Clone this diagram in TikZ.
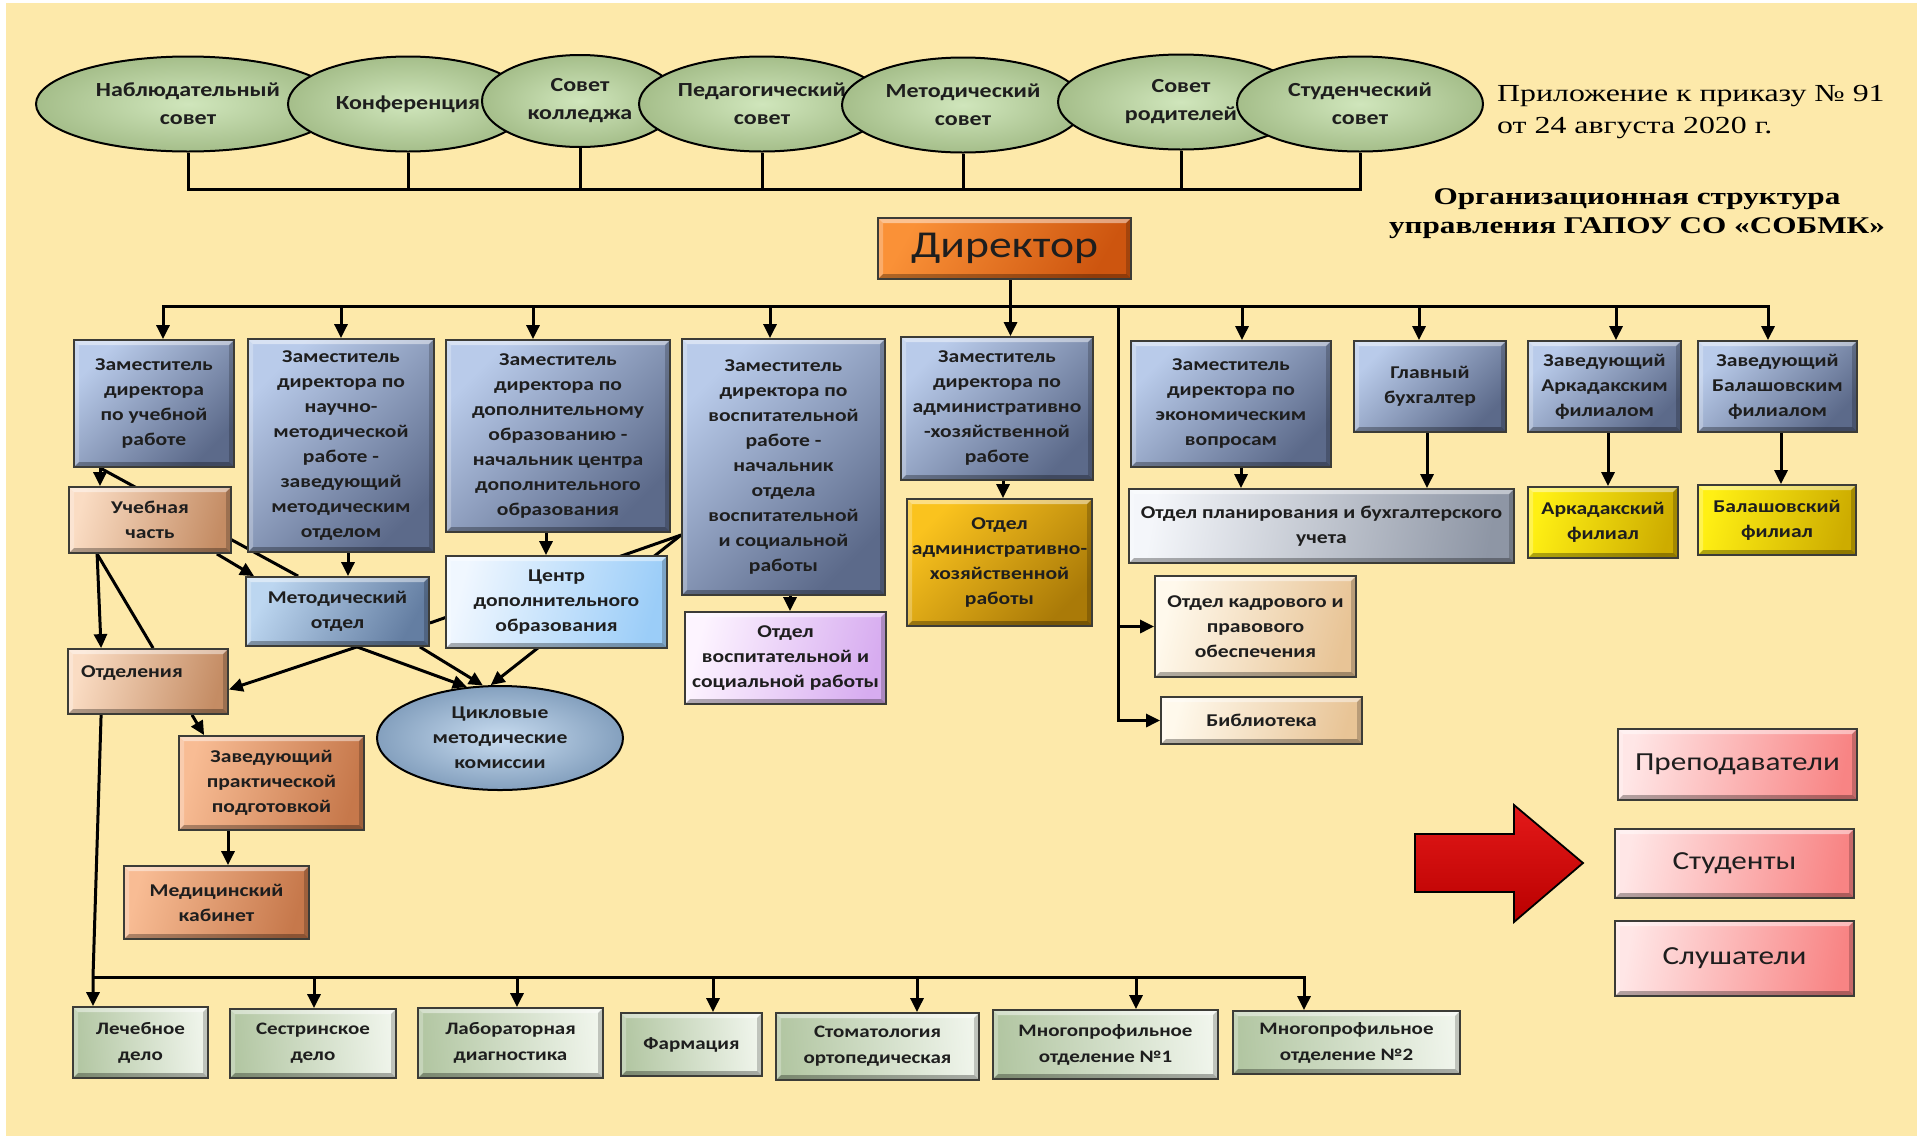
\documentclass[tikz,border=0pt]{standalone}
\usepackage{fontspec}
\setmainfont{Carlito}[FakeStretch=1.2]
\newfontfamily\tms{Liberation Serif}[FakeStretch=1.3]
\usetikzlibrary{arrows.meta,shapes.geometric}
\pgfdeclarelayer{back}\pgfdeclarelayer{lines}
\pgfsetlayers{back,lines,main}
\definecolor{bgy}{RGB}{253,233,170}
\definecolor{txt}{RGB}{30,30,30}
\definecolor{edge}{RGB}{60,60,55}
\definecolor{gl}{RGB}{208,230,188}
\definecolor{gd}{RGB}{165,190,138}
\definecolor{zl}{RGB}{185,203,234}
\definecolor{zd}{RGB}{92,106,138}
\definecolor{pl}{RGB}{250,220,195}
\definecolor{pd}{RGB}{196,140,100}
\definecolor{ol}{RGB}{248,188,148}
\definecolor{od}{RGB}{198,120,75}
\definecolor{ml}{RGB}{188,214,240}
\definecolor{md}{RGB}{100,126,162}
\definecolor{cl}{RGB}{240,247,255}
\definecolor{cd}{RGB}{155,205,248}
\definecolor{al}{RGB}{250,195,30}
\definecolor{ad}{RGB}{170,122,8}
\definecolor{vl}{RGB}{253,244,255}
\definecolor{vd}{RGB}{215,172,240}
\definecolor{sl}{RGB}{244,246,250}
\definecolor{sd}{RGB}{142,150,165}
\definecolor{yl}{RGB}{255,240,20}
\definecolor{yd}{RGB}{205,172,0}
\definecolor{kl}{RGB}{255,249,236}
\definecolor{kd}{RGB}{232,196,150}
\definecolor{rl}{RGB}{255,230,230}
\definecolor{rd}{RGB}{248,132,132}
\definecolor{bl}{RGB}{240,245,236}
\definecolor{bd}{RGB}{178,198,162}
\definecolor{dl}{RGB}{250,145,55}
\definecolor{dd}{RGB}{205,85,15}
\definecolor{el}{RGB}{200,220,240}
\definecolor{ed}{RGB}{132,160,190}
\definecolor{redar}{RGB}{228,25,25}
\definecolor{redard}{RGB}{185,0,0}
\newcommand\myfA{\bfseries\fontsize{18}{25}\selectfont}
\newcommand\myfS{\bfseries\fontsize{17.5}{26}\selectfont}
\newcommand\myfE{\bfseries\fontsize{20}{28}\selectfont}
\newcommand\myfD{\fontsize{38}{40}\selectfont}
\newcommand\myfP{\fontsize{26}{30}\selectfont}
\newcommand\myfT{\tms\fontsize{24.5}{32}\selectfont}
\newcommand\myfH{\tms\bfseries\fontsize{24}{29}\selectfont}
\tikzset{
 bevel/.style={path picture={
  \fill[white,opacity=.45] (path picture bounding box.north west) -- (path picture bounding box.north east) -- ([shift={(-5pt,-5pt)}]path picture bounding box.north east) -- ([shift={(5pt,-5pt)}]path picture bounding box.north west) -- cycle;
  \fill[white,opacity=.25] (path picture bounding box.north west) -- ([shift={(5pt,-5pt)}]path picture bounding box.north west) -- ([shift={(5pt,5pt)}]path picture bounding box.south west) -- (path picture bounding box.south west) -- cycle;
  \fill[black,opacity=.30] (path picture bounding box.south west) -- (path picture bounding box.south east) -- ([shift={(-5pt,5pt)}]path picture bounding box.south east) -- ([shift={(5pt,5pt)}]path picture bounding box.south west) -- cycle;
  \fill[black,opacity=.20] (path picture bounding box.north east) -- (path picture bounding box.south east) -- ([shift={(-5pt,5pt)}]path picture bounding box.south east) -- ([shift={(-5pt,-5pt)}]path picture bounding box.north east) -- cycle;
 }},
 bx/.style n args={3}{draw=edge, line width=1.8pt, top color=#1, bottom color=#2, shading angle=#3, bevel, align=center, text=txt, inner sep=0pt, font=\myfA},
 ell/.style={ellipse, draw=black, line width=2pt, inner color=gl, outer color=gd, align=center, text=txt, font=\myfE, inner sep=0pt},
 ln/.style={line width=3pt},
 arr/.style={line width=3pt, -{Triangle[length=14pt,width=13pt]}},
 sz/.style 2 args={minimum width=#1 pt, minimum height=#2 pt},
}
\begin{document}
\begin{tikzpicture}[x=1pt,y=-1pt]
\useasboundingbox (0,0) rectangle (1917,1136);
\begin{pgfonlayer}{back}
\fill[white] (0,0) rectangle (1917,1136);
\fill[bgy] (6,3) rectangle (1917,1136);
\end{pgfonlayer}

% councils
\node[ell, sz={304}{95}] (e1) at (188,104) {Наблюдательный\\совет};
\node[ell, sz={240}{95}] (e2) at (408,104) {Конференция};
\node[ell, sz={196}{92}] (e3) at (580,101) {Совет\\колледжа};
\node[ell, sz={246}{95}] (e4) at (762,104) {Педагогический\\совет};
\node[ell, sz={242}{95}] (e5) at (963,105) {Методический\\совет};
\node[ell, sz={246}{95}] (e6) at (1181,102) {Совет\\родителей};
\node[ell, sz={246}{95}] (e7) at (1360,104) {Студенческий\\совет};

\node[anchor=west, align=left, font=\myfT, text=black, inner sep=0pt] (pril) at (1497,112) {Приложение к приказу № 91\\от 24 августа 2020 г.};
\node[align=center, font=\myfH, text=black, inner sep=0pt] (title) at (1637,214) {Организационная структура\\управления ГАПОУ СО «СОБМК»};

\node[bx={dl}{dd}{60}, sz={253}{61}, font=\myfD] (dir) at (1004.5,248.5) {Директор};

% deputies
\node[bx={zl}{zd}{45}, sz={160}{127}] (zur) at (154,403.5) {Заместитель\\директора\\по учебной\\работе};
\node[bx={zl}{zd}{45}, sz={186}{213}] (znm) at (341,445.5) {Заместитель\\директора по\\научно-\\методической\\работе -\\заведующий\\методическим\\отделом};
\node[bx={zl}{zd}{45}, sz={224}{192}] (zdo) at (558,436) {Заместитель\\директора по\\дополнительному\\образованию -\\начальник центра\\дополнительного\\образования};
\node[bx={zl}{zd}{45}, sz={203}{256}] (zvr) at (783.5,467) {Заместитель\\директора по\\воспитательной\\работе -\\начальник\\отдела\\воспитательной\\и социальной\\работы};
\node[bx={zl}{zd}{45}, sz={192}{143}] (zahr) at (997,408.5) {Заместитель\\директора по\\административно\\-хозяйственной\\работе};
\node[bx={zl}{zd}{45}, sz={200}{126}] (zek) at (1231,404) {Заместитель\\директора по\\экономическим\\вопросам};
\node[bx={zl}{zd}{45}, sz={152}{91}] (gb) at (1430,386.5) {Главный\\бухгалтер};
\node[bx={zl}{zd}{45}, sz={153}{91}] (zark) at (1604.5,386.5) {Заведующий\\Аркадакским\\филиалом};
\node[bx={zl}{zd}{45}, sz={159}{91}] (zbal) at (1777.5,386.5) {Заведующий\\Балашовским\\филиалом};

% departments
\node[bx={pl}{pd}{75}, sz={162}{66}] (uch) at (150,520) {Учебная\\часть};
\node[bx={cl}{cd}{75}, sz={221}{92}] (cdo) at (556.5,602) {Центр\\дополнительного\\образования};
\node[bx={ml}{md}{60}, sz={183}{69}] (metod) at (337.5,611.5) {Методический\\отдел};
\node[bx={pl}{pd}{75}, sz={160}{65}, text width=150pt, align=left] (otd) at (148,681.5) {\hspace*{8pt}Отделения\\[-6pt]\mbox{}};
\node[bx={ol}{od}{75}, sz={185}{94}] (zpp) at (271.5,783) {Заведующий\\практической\\подготовкой};
\node[bx={ol}{od}{75}, sz={185}{73}] (medk) at (216.5,902.5) {Медицинский\\кабинет};
\node[ellipse, draw=black, line width=2pt, inner color=el, outer color=ed, align=center, text=txt, font=\myfA, inner sep=0pt, sz={246}{104}] (cmk) at (500,738) {Цикловые\\методические\\комиссии};
\node[bx={vl}{vd}{75}, sz={201}{92}] (ovsr) at (785.5,658) {Отдел\\воспитательной и\\социальной работы};
\node[bx={al}{ad}{45}, sz={185}{127}] (oahr) at (999.5,562.5) {Отдел\\административно-\\хозяйственной\\работы};
\node[bx={sl}{sd}{80}, sz={385}{74}] (oplan) at (1321.5,526) {Отдел планирования и бухгалтерского\\учета};
\node[bx={yl}{yd}{75}, sz={150}{71}] (fark) at (1603,522.5) {Аркадакский\\филиал};
\node[bx={yl}{yd}{75}, sz={158}{70}] (fbal) at (1777,520) {Балашовский\\филиал};
\node[bx={kl}{kd}{75}, sz={201}{101}] (okadr) at (1255.5,626.5) {Отдел кадрового и\\правового\\обеспечения};
\node[bx={kl}{kd}{75}, sz={201}{47}] (bibl) at (1261.5,720.5) {Библиотека};

% people
\node[bx={rl}{rd}{80}, sz={239}{71}, font=\myfP] (prep) at (1737.5,764.5) {Преподаватели};
\node[bx={rl}{rd}{80}, sz={239}{69}, font=\myfP] (stud) at (1734.5,863.5) {Студенты};
\node[bx={rl}{rd}{80}, sz={239}{75}, font=\myfP] (slush) at (1734.5,958.5) {Слушатели};
\draw[line width=1.8pt, draw=black, top color=redar, bottom color=redard, shading angle=0]
  (1415,834) -- (1514,834) -- (1514,805) -- (1583,863) -- (1514,922) -- (1514,892) -- (1415,892) -- cycle;

% specialities
\node[bx={bd}{bl}{95}, sz={135}{71}, font=\myfS] (b1) at (140.5,1042.5) {Лечебное\\дело};
\node[bx={bd}{bl}{95}, sz={166}{69}, font=\myfS] (b2) at (313,1043.5) {Сестринское\\дело};
\node[bx={bd}{bl}{95}, sz={185}{70}, font=\myfS] (b3) at (510.5,1043) {Лабораторная\\диагностика};
\node[bx={bd}{bl}{95}, sz={141}{63}, font=\myfS] (b4) at (691.5,1044.5) {Фармация};
\node[bx={bd}{bl}{95}, sz={203}{67}, font=\myfS] (b5) at (877.5,1046.5) {Стоматология\\ортопедическая};
\node[bx={bd}{bl}{95}, sz={225}{69}, font=\myfS] (b6) at (1105.5,1044.5) {Многопрофильное\\отделение №1};
\node[bx={bd}{bl}{95}, sz={227}{63}, font=\myfS] (b7) at (1346.5,1042.5) {Многопрофильное\\отделение №2};

\begin{pgfonlayer}{lines}
% councils bus
\coordinate (tb) at (0,189);
\draw[ln] (e1.south) -- (e1.south |- tb) -- (e7.south |- tb) -- (e7.south);
\foreach \e in {e2,e3,e4,e5,e6} \draw[ln] (\e.south) -- (\e.south |- tb);
% director bus
\coordinate (mb) at (0,306);
\coordinate (d1) at ([xshift=6pt]dir.south);
\coordinate (a1) at ([xshift=9pt]zur.north);
\coordinate (a2) at (znm.north);
\coordinate (a3) at ([xshift=-25pt]zdo.north);
\coordinate (a4) at ([xshift=-13.5pt]zvr.north);
\coordinate (a5) at (d1 |- zahr.north);
\coordinate (a6) at ([xshift=11pt]zek.north);
\coordinate (a7) at ([xshift=-11pt]gb.north);
\coordinate (a8) at ([xshift=11.5pt]zark.north);
\coordinate (a9) at ([xshift=-9.5pt]zbal.north);
\draw[arr] (a9 |- mb) -- (a1 |- mb) -- (a1);
\draw[arr] (a1 |- mb) -- (a9 |- mb) -- (a9);
\draw[arr] (dir.south -| d1) -- (a5);
\foreach \a in {a2,a3,a4,a6,a7,a8} \draw[arr] (\a |- mb) -- (\a);
% side branch
\coordinate (vb) at (1118,306);
\draw[arr] (vb) -- (vb |- bibl.west) -- (bibl.west);
\draw[arr] (vb |- okadr.west) -- (okadr.west);
% second level
\coordinate (u1) at ([xshift=-54pt]zur.south);
\draw[arr] (u1) -- (u1 |- uch.north);
\draw[ln] (u1) -- ([xshift=53pt]metod.north west);
\draw[arr] ([xshift=-15pt]uch.south east) -- ([xshift=9pt]metod.north west);
\coordinate (u3) at ([xshift=29pt]uch.south west);
\draw[arr] (u3) -- ([xshift=34pt]otd.north west);
\draw[ln] (u3) -- ([xshift=86pt]otd.north west);
\coordinate (n1) at ([xshift=7pt]znm.south);
\draw[arr] (n1) -- (n1 |- metod.north);
\coordinate (m1) at ([xshift=19.5pt]metod.south);
\draw[arr] (m1) -- ([yshift=-8pt]otd.east);
\draw[arr] (m1) -- (cmk.123);
\draw[arr] ([xshift=-10pt]metod.south east) -- (cmk.108);
\coordinate (v1) at ([yshift=-68pt]zvr.west);
\draw[ln] (v1) -- ([yshift=-11.5pt]metod.east);
\draw[arr] (v1) -- (cmk.100);
\coordinate (c1) at ([xshift=-12pt]zdo.south);
\draw[arr] (c1) -- (c1 |- cdo.north);
\coordinate (w1) at ([xshift=6.5pt]zvr.south);
\draw[arr] (w1) -- (w1 |- ovsr.north);
\coordinate (h1) at ([xshift=6pt]zahr.south);
\draw[arr] (h1) -- (h1 |- oahr.north);
\coordinate (k1) at ([xshift=10pt]zek.south);
\draw[arr] (k1) -- (k1 |- oplan.north);
\coordinate (k2) at ([xshift=-3pt]gb.south);
\draw[arr] (k2) -- (k2 |- oplan.north);
\coordinate (k3) at ([xshift=3.5pt]zark.south);
\draw[arr] (k3) -- (k3 |- fark.north);
\coordinate (k4) at ([xshift=3.5pt]zbal.south);
\draw[arr] (k4) -- (k4 |- fbal.north);
\draw[arr] ([xshift=44pt]otd.south) -- ([xshift=26pt]zpp.north west);
\coordinate (p1) at ([xshift=-43.5pt]zpp.south);
\draw[arr] (p1) -- (p1 |- medk.north);
% specialities bus
\coordinate (bb) at (0,977);
\coordinate (o1) at ([xshift=34pt]otd.south west);
\coordinate (s1) at ([xshift=-47.5pt]b1.north);
\coordinate (s2) at ([xshift=1pt]b2.north);
\coordinate (s3) at ([xshift=6.5pt]b3.north);
\coordinate (s4) at ([xshift=21.5pt]b4.north);
\coordinate (s5) at ([xshift=39.5pt]b5.north);
\coordinate (s6) at ([xshift=30.5pt]b6.north);
\coordinate (s7) at ([xshift=-42.5pt]b7.north);
\draw[arr] (o1) -- (s1 |- bb) -- (s1);
\draw[arr] (s1 |- bb) -- (s7 |- bb) -- (s7);
\foreach \s in {s2,s3,s4,s5,s6} \draw[arr] (\s |- bb) -- (\s);
\end{pgfonlayer}
\end{tikzpicture}
\end{document}
